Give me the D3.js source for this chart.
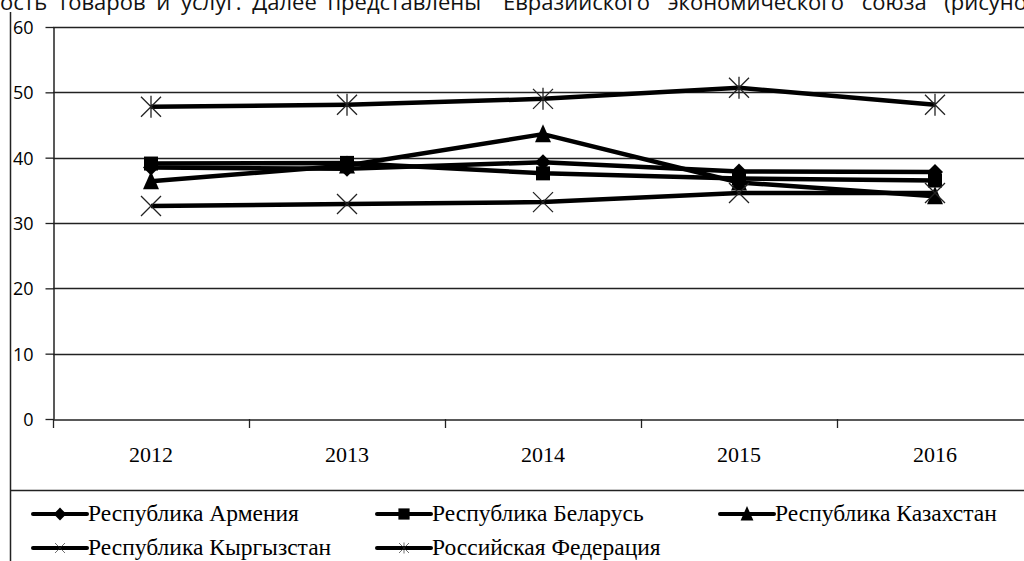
<!DOCTYPE html>
<html><head><meta charset="utf-8">
<script src="https://cdn.jsdelivr.net/npm/d3@7/dist/d3.min.js"></script>
<style>body{margin:0;background:#fff;overflow:hidden}svg{display:block}</style>
</head><body>
<svg id="c" width="1024" height="561"></svg>
<script>
const years = ["2012","2013","2014","2015","2016"];
const seriesNames = ["Республика Армения","Республика Беларусь","Республика Казахстан","Республика Кыргызстан","Российская Федерация"];
const armenia    = [38.5, 38.3, 39.3, 37.9, 37.8];
const belarus    = [39.1, 39.2, 37.6, 36.8, 36.5];
const kazakhstan = [36.4, 38.8, 43.6, 36.2, 34.1];
const kyrgyzstan = [32.6, 32.9, 33.2, 34.6, 34.6];
const russia     = [47.8, 48.1, 49.0, 50.7, 48.1];
const yTicks = [0, 10, 20, 30, 40, 50, 60];
const markers = ["diamond","square","triangle","cross","asterisk"];
const headerParts = ["ость товаров и услуг. Далее представлены", "Евразийского экономического союза (рисунок 1)"];

const data = [armenia, belarus, kazakhstan, kyrgyzstan, russia];
const svg = d3.select("#c");
const serif = "'Liberation Serif','Times New Roman',serif";
const sans = "'Open Sans','Noto Sans',sans-serif";

// header text (cropped at the top, as in the source page)
const hdr = svg.append("text").attr("y", 10).attr("font-family",sans).attr("font-size", 22).attr("fill","#111");
hdr.append("tspan").attr("x", 0).attr("word-spacing", 5).text(headerParts[0]);
hdr.append("tspan").attr("x", 503).attr("word-spacing", 12).text(headerParts[1]);

// chart frame
svg.append("line").attr("x1",10.5).attr("x2",10.5).attr("y1",12).attr("y2",561).attr("stroke","#222").attr("stroke-width",1.5);
svg.append("line").attr("x1",10).attr("x2",1024).attr("y1",490.5).attr("y2",490.5).attr("stroke","#222").attr("stroke-width",1.5);

const pLeft = 53, pTop = 27, pBottom = 419, bw = 196;
const x = d3.scaleBand().domain(years).range([pLeft, pLeft + bw*years.length]);
const y = d3.scaleLinear().domain([0, 60]).range([pBottom, pTop]);

// gridlines
svg.append("g").selectAll("line").data(yTicks.filter(d=>d>0)).join("line")
  .attr("x1", pLeft).attr("x2", 1024).attr("y1", d=>Math.round(y(d))+0.5).attr("y2", d=>Math.round(y(d))+0.5)
  .attr("stroke","#222").attr("stroke-width",1.3);

// y axis
const ya = svg.append("g").attr("transform",`translate(${pLeft+0.5},0)`)
  .call(d3.axisLeft(y).tickValues(yTicks).tickSize(8).tickSizeOuter(0));
ya.select(".domain").attr("stroke","#222").attr("stroke-width",1.5);
ya.selectAll(".tick line").attr("stroke","#222").attr("stroke-width",1.3);
ya.selectAll(".tick text").attr("font-family",sans).attr("font-size",18).attr("fill","#000").attr("x",-20).attr("dy","0.36em");

// x axis
const xa = svg.append("g").attr("transform",`translate(0,${pBottom+0.5})`)
  .call(d3.axisBottom(x).tickSize(0).tickSizeOuter(0));
xa.select(".domain").attr("stroke","#222").attr("stroke-width",1.5);
xa.selectAll(".tick text").attr("font-family",serif).attr("font-size",22).attr("fill","#000").attr("dy",0).attr("y",42);
svg.append("g").selectAll("line").data(years).join("line")
  .attr("x1", d=>Math.round(x(d))+0.5).attr("x2", d=>Math.round(x(d))+0.5)
  .attr("y1", pBottom).attr("y2", pBottom+9).attr("stroke","#222").attr("stroke-width",1.3);

function drawMarker(g, type, cx, cy){
  if(type==="diamond"){
    g.append("path").attr("d",`M${cx},${cy-8}L${cx+8},${cy}L${cx},${cy+8}L${cx-8},${cy}Z`).attr("fill","#000");
  } else if(type==="square"){
    g.append("rect").attr("x",cx-7).attr("y",cy-7).attr("width",14).attr("height",14).attr("fill","#000");
  } else if(type==="triangle"){
    g.append("path").attr("d",`M${cx},${cy-10}L${cx+8},${cy+8}L${cx-8},${cy+8}Z`).attr("fill","#000");
  } else if(type==="cross"){
    g.append("path").attr("d",`M${cx-10},${cy-10}L${cx+10},${cy+10}M${cx-10},${cy+10}L${cx+10},${cy-10}`).attr("stroke","#222").attr("stroke-width",1.3);
  } else if(type==="asterisk"){
    g.append("path").attr("d",`M${cx-10},${cy-10}L${cx+10},${cy+10}M${cx-10},${cy+10}L${cx+10},${cy-10}M${cx},${cy-11}L${cx},${cy+11}`).attr("stroke","#222").attr("stroke-width",1.3);
  }
}

const line = d3.line().x((d,i)=>x(years[i]) + x.bandwidth()/2).y(d=>y(d));
data.forEach((vals, si)=>{
  const g = svg.append("g");
  g.append("path").datum(vals).attr("d", line).attr("fill","none").attr("stroke","#000").attr("stroke-width",4.5).attr("stroke-linejoin","round");
  vals.forEach((v,i)=> drawMarker(g, markers[si], x(years[i]) + x.bandwidth()/2, y(v)));
});

// legend
const legPos = [[33,514],[377,514],[720,514],[33,548],[377,548]];
seriesNames.forEach((name, i)=>{
  const [lx, ly] = legPos[i];
  const g = svg.append("g");
  g.append("line").attr("x1",lx).attr("x2",lx+54).attr("y1",ly).attr("y2",ly).attr("stroke","#000").attr("stroke-width",4).attr("stroke-linecap","round");
  const s = markers[i]==="cross"||markers[i]==="asterisk" ? 0.5 : 0.8;
  const mg = g.append("g").attr("transform",`translate(${lx+27},${ly}) scale(${s})`);
  drawMarker(mg, markers[i], 0, 0);
  g.append("text").attr("x",lx+55).attr("y",ly+7).attr("font-family",serif).attr("font-size",23.5).attr("fill","#000").text(name);
});
</script>
</body></html>
